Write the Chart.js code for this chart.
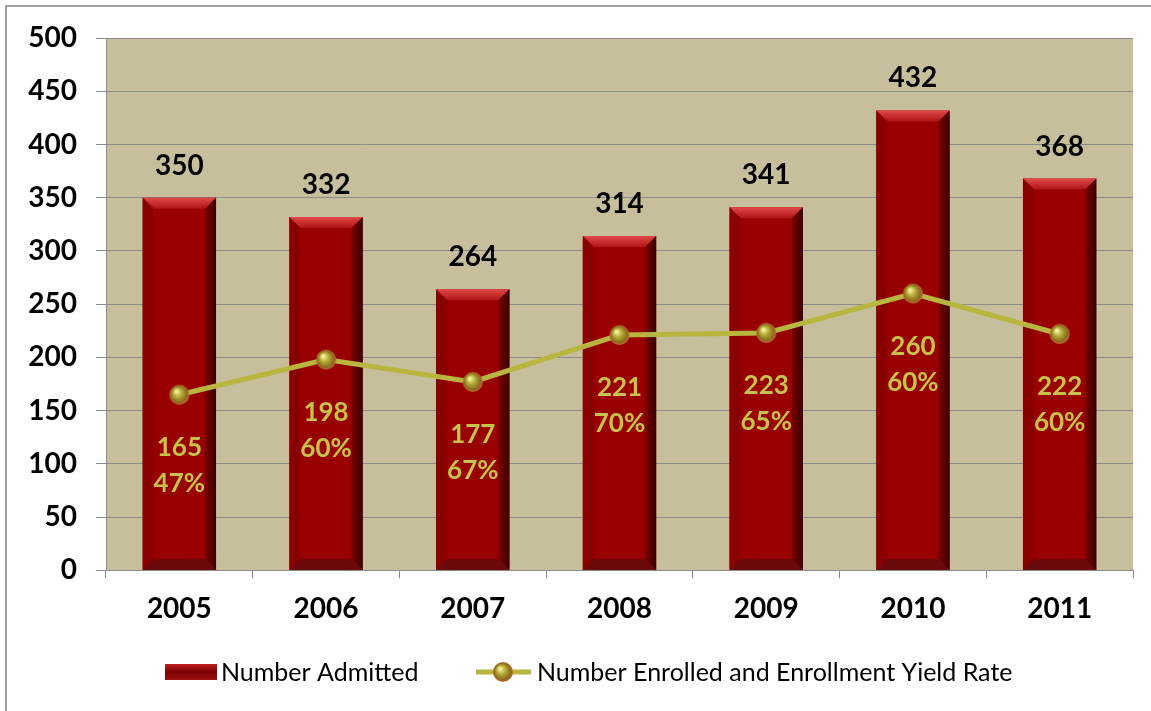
<!DOCTYPE html>
<html>
<head>
<meta charset="utf-8">
<script src="https://cdn.jsdelivr.net/npm/chart.js@4.4.0/dist/chart.umd.min.js"></script>
<style>
  html, body { margin: 0; padding: 0; background: #fff; }
  #wrap { position: relative; width: 1151px; height: 711px; overflow: hidden; }
  #frame { position: absolute; left: 5px; top: 5px; width: 1200px; height: 800px; border: 2px solid #a0a0a0; }
  canvas { position: absolute; left: 0; top: 0; }
</style>
</head>
<body>
<div id="wrap">
  <div id="frame"></div>
  <canvas id="chart" width="1151" height="711"></canvas>
</div>
<script>
const years = ['2005', '2006', '2007', '2008', '2009', '2010', '2011'];
const admitted = [350, 332, 264, 314, 341, 432, 368];
const enrolled = [165, 198, 177, 221, 223, 260, 222];
const yieldRate = ['47%', '60%', '67%', '70%', '65%', '60%', '60%'];

const FONT = 'Lato, "Open Sans", sans-serif';
const BAR = '#990000';
const LINE = '#b8b63e';
const LABEL = '#c6c24a';

function sphere(r) {
  const c = document.createElement('canvas');
  c.width = c.height = r * 2 + 2;
  const g = c.getContext('2d');
  const cx = r + 1;
  const grad = g.createRadialGradient(cx - r * 0.3, cx - r * 0.35, 1, cx, cx, r);
  grad.addColorStop(0, '#f4f0a0');
  grad.addColorStop(0.35, '#b8b03a');
  grad.addColorStop(0.8, '#8a6a20');
  grad.addColorStop(1, '#c86a30');
  g.fillStyle = grad;
  g.beginPath();
  g.arc(cx, cx, r, 0, Math.PI * 2);
  g.fill();
  return c;
}

const plotBg = {
  id: 'plotBg',
  beforeDraw(chart) {
    const { ctx, chartArea: a } = chart;
    ctx.save();
    ctx.fillStyle = '#c7bf9c';
    ctx.fillRect(a.left, a.top, a.right - a.left, a.bottom - a.top);
    ctx.restore();
  }
};

// bevel look on the bars
const bevel = {
  id: 'bevel',
  afterDatasetDraw(chart, args) {
    if (args.meta.type !== 'bar') return;
    const ctx = chart.ctx;
    ctx.save();
    args.meta.data.forEach(bar => {
      const l = bar.x - bar.width / 2, r = bar.x + bar.width / 2;
      const t = bar.y, b = bar.base, d = 11;
      const top = ctx.createLinearGradient(0, t, 0, t + d);
      top.addColorStop(0, '#e04a4a');
      top.addColorStop(1, '#b01414');
      ctx.fillStyle = top;
      ctx.beginPath();
      ctx.moveTo(l, t); ctx.lineTo(r, t); ctx.lineTo(r - d, t + d); ctx.lineTo(l + d, t + d); ctx.closePath();
      ctx.fill();
      const rs = ctx.createLinearGradient(r - d, 0, r, 0);
      rs.addColorStop(0, '#7a0000');
      rs.addColorStop(1, '#3a0000');
      ctx.fillStyle = rs;
      ctx.beginPath();
      ctx.moveTo(r, t); ctx.lineTo(r, b); ctx.lineTo(r - d, b - d); ctx.lineTo(r - d, t + d); ctx.closePath();
      ctx.fill();
      ctx.fillStyle = '#880000';
      ctx.beginPath();
      ctx.moveTo(l, t); ctx.lineTo(l + d, t + d); ctx.lineTo(l + d, b - d); ctx.lineTo(l, b); ctx.closePath();
      ctx.fill();
      ctx.fillStyle = '#6a0a0a';
      ctx.beginPath();
      ctx.moveTo(l, b); ctx.lineTo(l + d, b - d); ctx.lineTo(r - d, b - d); ctx.lineTo(r, b); ctx.closePath();
      ctx.fill();
    });
    ctx.restore();
  }
};

const valueLabels = {
  id: 'valueLabels',
  afterDatasetsDraw(chart) {
    const ctx = chart.ctx;
    ctx.save();
    ctx.textAlign = 'center';
    ctx.textBaseline = 'middle';
    ctx.font = 'bold 28px ' + FONT;
    ctx.fillStyle = '#000';
    chart.getDatasetMeta(1).data.forEach((bar, i) => {
      ctx.fillText(admitted[i], bar.x, bar.y - 32);
    });
    ctx.font = 'bold 26px ' + FONT;
    ctx.fillStyle = LABEL;
    chart.getDatasetMeta(0).data.forEach((pt, i) => {
      ctx.fillText(enrolled[i], pt.x, pt.y + 53);
      ctx.fillText(yieldRate[i], pt.x, pt.y + 89);
    });
    ctx.restore();
  }
};

const legendDraw = {
  id: 'legendDraw',
  afterDraw(chart) {
    const ctx = chart.ctx;
    const y = 672;
    ctx.save();
    const l = 165, w = 52, h = 16;
    const g = ctx.createLinearGradient(0, y - h / 2, 0, y + h / 2);
    g.addColorStop(0, '#c02020');
    g.addColorStop(0.5, '#7a0000');
    g.addColorStop(1, '#a01010');
    ctx.fillStyle = g;
    ctx.fillRect(l, y - h / 2, w, h);
    ctx.font = '25px ' + FONT;
    ctx.fillStyle = '#000';
    ctx.textBaseline = 'middle';
    ctx.fillText(chart.data.datasets[1].label, 221, y + 1);
    ctx.strokeStyle = LINE;
    ctx.lineWidth = 5;
    ctx.beginPath();
    ctx.moveTo(476, y); ctx.lineTo(531, y); ctx.stroke();
    ctx.drawImage(sphere(10), 503 - 11, y - 11);
    ctx.fillText(chart.data.datasets[0].label, 537, y + 1);
    ctx.restore();
  }
};

new Chart(document.getElementById('chart'), {
  data: {
    labels: years,
    datasets: [
      {
        type: 'line',
        label: 'Number Enrolled and Enrollment Yield Rate',
        data: enrolled,
        borderColor: LINE,
        borderWidth: 5,
        pointStyle: sphere(10),
        pointRadius: 10,
        tension: 0,
        order: 0,
      },
      {
        type: 'bar',
        label: 'Number Admitted',
        data: admitted,
        backgroundColor: BAR,
        barPercentage: 0.5,
        categoryPercentage: 1,
        order: 1,
      },
    ],
  },
  options: {
    responsive: false,
    animation: false,
    layout: { padding: { top: 38, right: 18, left: 0, bottom: 71 } },
    plugins: { legend: { display: false }, tooltip: { enabled: false } },
    scales: {
      x: {
        grid: { display: true, drawOnChartArea: false, offset: true, color: '#8c8c8c', tickLength: 8 },
        border: { color: '#8c8c8c', width: 1 },
        ticks: { color: '#000', font: { family: FONT, size: 28, weight: 'bold' }, padding: 14 },
      },
      y: {
        min: 0,
        max: 500,
        afterFit(scale) { scale.width = 106; },
        grid: { color: '#8c8c8c', tickLength: 10 },
        border: { color: '#8c8c8c', width: 1 },
        ticks: { stepSize: 50, color: '#000', font: { family: FONT, size: 28, weight: 'bold' }, padding: 19 },
      },
    },
  },
  plugins: [plotBg, bevel, valueLabels, legendDraw],
});
</script>
</body>
</html>
